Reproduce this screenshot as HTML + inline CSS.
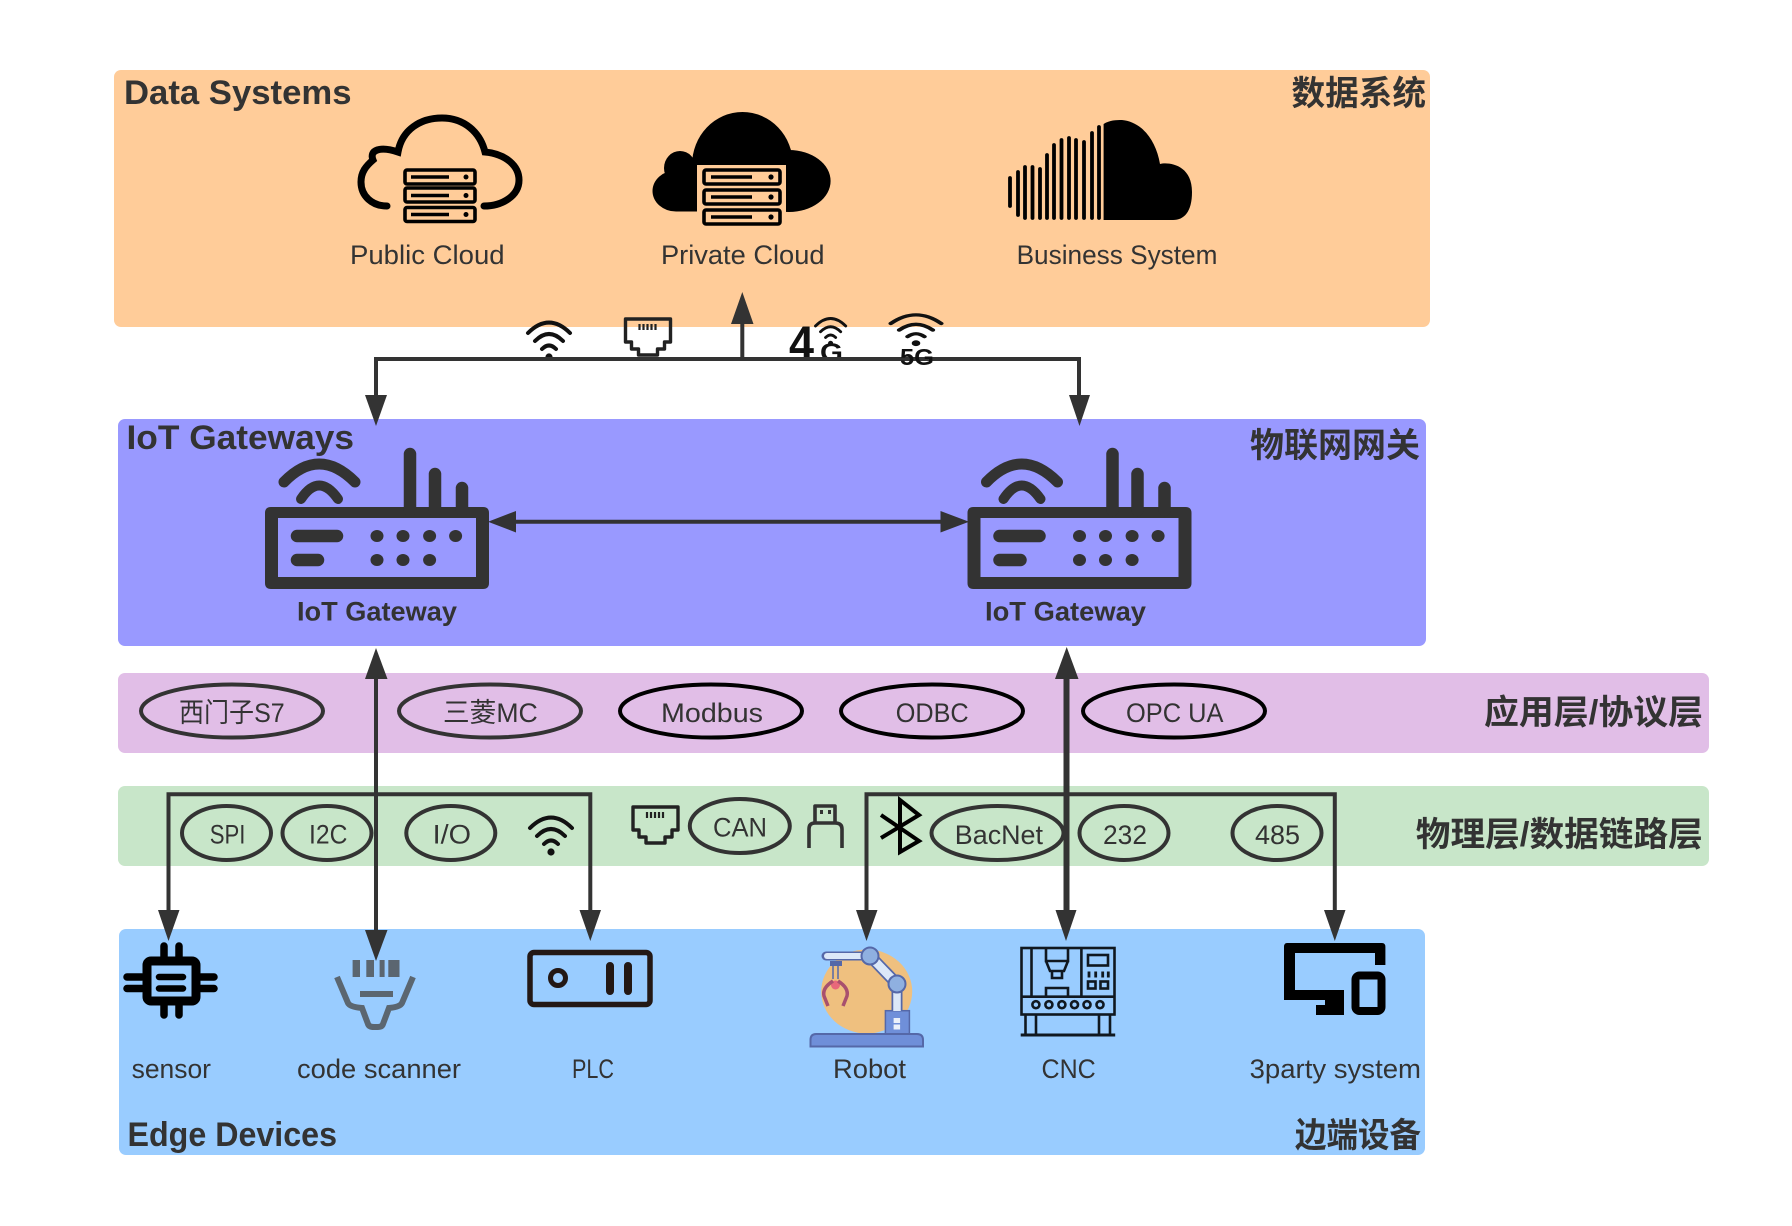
<!DOCTYPE html>
<html><head><meta charset="utf-8"><style>
html,body{margin:0;padding:0;background:#fff}
svg{display:block}
text{font-family:"Liberation Sans","Noto Sans CJK SC",sans-serif;fill:#333}
.b{font-weight:700;font-size:34px}
.r{font-size:27px}
.m{font-weight:700;font-size:27px}
.l{stroke:#333;stroke-width:4;fill:none}
.a{fill:#333}
.e{fill:none;stroke:#333;stroke-width:4}
.k{fill:none;stroke:#000;stroke-width:4}
</style></head><body>
<svg width="1792" height="1226" viewBox="0 0 1792 1226" xmlns="http://www.w3.org/2000/svg">
<defs>
<g id="wifi" fill="none" stroke="#111" stroke-width="4" stroke-linecap="round">
<path d="M-21 -25Q0 -46 21 -25"/><path d="M-14 -17Q0 -31 14 -17"/><path d="M-7 -9Q0 -16 7 -9"/><circle cx="0" cy="-1" r="1.6" fill="#111"/>
</g>
<g id="rj" fill="none" stroke="#222" stroke-width="3.4" stroke-linejoin="round">
<path d="M1 1H46V24H40V31H33V37H14V31H7V24H1Z"/>
<path d="M15 6V12M19 6V12M23 6V12M27 6V12M31 6V12" stroke-width="2.2"/>
</g>
<g id="router">
<path d="M271 507H483Q489 507 489 513V583Q489 589 483 589H271Q265 589 265 583V513Q265 507 271 507ZM278 518V577H476V518Z" fill="#333" fill-rule="evenodd"/>
<path d="M410 510V454M435 510V474M462 510V488" stroke="#333" stroke-width="12.5" stroke-linecap="round"/>
<path d="M284 482Q319 446 355 482" fill="none" stroke="#333" stroke-width="11" stroke-linecap="round"/>
<path d="M301 499Q319 472 338 499" fill="none" stroke="#333" stroke-width="10" stroke-linecap="round"/>
<path d="M297 536H337M297 560H318" stroke="#333" stroke-width="12.5" stroke-linecap="round"/>
<g fill="#333"><ellipse cx="377" cy="536" rx="6.5" ry="6"/><ellipse cx="403" cy="536" rx="6.5" ry="6"/><ellipse cx="429.6" cy="536" rx="6.5" ry="6"/><ellipse cx="455.6" cy="536" rx="6.5" ry="6"/><ellipse cx="377" cy="560" rx="6.5" ry="6"/><ellipse cx="403" cy="560" rx="6.5" ry="6"/><ellipse cx="429.6" cy="560" rx="6.5" ry="6"/></g>
</g>
</defs>

<rect x="114" y="70" width="1316" height="257" rx="7" fill="#FFCC99"/>
<rect x="118" y="419" width="1308" height="227" rx="7" fill="#9999FF"/>
<rect x="118" y="673" width="1591" height="80" rx="7" fill="#E1BEE7"/>
<rect x="118" y="786" width="1591" height="80" rx="7" fill="#C8E6C9"/>
<rect x="119" y="929" width="1306" height="226" rx="7" fill="#99CCFF"/>

<!-- public cloud -->
<path d="M387 206C372 206 361 196 361 182C361 172 366 166 373 160C369 150 380 146 398 152C402 130 420 118 442 118C464 118 480 132 485 152C506 154 519 166 519 180C519 196 502 206 484 206" fill="none" stroke="#000" stroke-width="7" stroke-linecap="round"/>
<g fill="none" stroke="#000" stroke-width="3.6">
<rect x="405" y="170" width="70" height="14" rx="2"/><rect x="405" y="188" width="70" height="14" rx="2"/><rect x="405" y="207.5" width="70" height="14" rx="2"/>
<path d="M411 177H449M411 195.5H449M411 214.5H449"/>
</g>
<g><circle cx="466" cy="177" r="2.5"/><circle cx="466" cy="195.5" r="2.5"/><circle cx="466" cy="214.5" r="2.5"/></g>

<!-- private cloud -->
<ellipse cx="742.5" cy="165" rx="50.5" ry="53"/><ellipse cx="789" cy="181" rx="41.6" ry="31"/><ellipse cx="676" cy="191" rx="23.5" ry="20.5"/><ellipse cx="680" cy="168" rx="16" ry="17"/><rect x="676" y="165" width="113" height="46.5"/>
<rect x="697" y="165" width="89" height="62" fill="#FFCC99"/>
<g fill="none" stroke="#000" stroke-width="3.6">
<rect x="704" y="170" width="76" height="14" rx="2"/><rect x="704" y="190" width="76" height="14" rx="2"/><rect x="704" y="210" width="76" height="14" rx="2"/>
</g>
<path d="M711 177H752M711 197H752M711 217H752" stroke="#000" stroke-width="3.6"/>
<circle cx="771" cy="177" r="2.6"/><circle cx="771" cy="197" r="2.6"/><circle cx="771" cy="217" r="2.6"/>

<!-- business -->
<path d="M1103.6 124C1110 120 1116 120 1122 120C1142 122 1156 140 1160 164C1168 162 1192 164 1192 192C1192 212 1184 220 1173 220H1103.6Z"/>
<g stroke="#000" stroke-width="3.8" stroke-linecap="round">
<path d="M1010 178V206M1018 172V215M1025 167V218M1032.5 167V218M1040 169V218M1047 155V218M1054 145V218M1061.5 140V218M1069 138V218M1076 140V218M1084 142V218M1092 133V218M1099 127V218"/>
</g>

<text class="b" x="124" y="104" textLength="227.5" lengthAdjust="spacingAndGlyphs">Data Systems</text>
<text class="b" x="1291.5" y="105" textLength="134.5" lengthAdjust="spacingAndGlyphs">数据系统</text>
<text class="r" x="350" y="264" textLength="154.6" lengthAdjust="spacingAndGlyphs">Public Cloud</text>
<text class="r" x="661" y="264" textLength="163.5" lengthAdjust="spacingAndGlyphs">Private Cloud</text>
<text class="r" x="1016.6" y="264" textLength="200.8" lengthAdjust="spacingAndGlyphs">Business System</text>

<!-- top icons -->
<use href="#wifi" x="549" y="358"/>
<use href="#rj" x="624.5" y="318"/>
<text x="789" y="360" style="font-weight:700;font-size:48px;fill:#111" textLength="25" lengthAdjust="spacingAndGlyphs">4</text>
<text x="820" y="361" style="font-weight:700;font-size:25px;fill:#111" textLength="23" lengthAdjust="spacingAndGlyphs">G</text>
<g transform="translate(830.6 344) scale(.72)"><use href="#wifi"/></g>
<g transform="translate(916 344) scale(1.2 .82)"><use href="#wifi"/></g>

<!-- top connectors -->
<path class="l" d="M376 395V359H1079V395"/>
<path class="l" d="M742.3 359V322"/>
<path class="a" d="M365 395H387L376 426ZM1069 395H1090L1079.5 426ZM731 324H753.5L742.3 292Z"/>
<text x="900" y="365" style="font-weight:700;font-size:23px;fill:#111" textLength="34" lengthAdjust="spacingAndGlyphs">5G</text>

<text class="b" x="126.5" y="449" textLength="227.5" lengthAdjust="spacingAndGlyphs">IoT Gateways</text>
<text class="b" x="1250" y="457" textLength="170" lengthAdjust="spacingAndGlyphs">物联网网关</text>

<use href="#router"/>
<use href="#router" x="702.5"/>
<text class="m" x="297" y="620.5" textLength="160" lengthAdjust="spacingAndGlyphs">IoT Gateway</text>
<text class="m" x="985" y="620.5" textLength="161" lengthAdjust="spacingAndGlyphs">IoT Gateway</text>

<path class="l" d="M514 521.7H943"/>
<path class="a" d="M488 521.7L516 511V532.5ZM969 521.7L940.5 511V532.5Z"/>

<!-- ellipses row 1 -->
<ellipse class="e" cx="232" cy="711" rx="91" ry="26.5"/>
<ellipse class="e" cx="490" cy="711" rx="91" ry="26.5"/>
<ellipse class="k" cx="711" cy="711" rx="91" ry="26.5"/>
<ellipse class="k" cx="932" cy="711" rx="91" ry="26.5"/>
<ellipse class="k" cx="1174" cy="711" rx="91" ry="26.5"/>
<text class="r" x="179" y="722" textLength="105.7" lengthAdjust="spacingAndGlyphs">西门子S7</text>
<text class="r" x="443" y="722" textLength="94.8" lengthAdjust="spacingAndGlyphs">三菱MC</text>
<text class="r" x="661" y="722" textLength="102" lengthAdjust="spacingAndGlyphs">Modbus</text>
<text class="r" x="895.7" y="722" textLength="73" lengthAdjust="spacingAndGlyphs">ODBC</text>
<text class="r" x="1126" y="722" textLength="97.5" lengthAdjust="spacingAndGlyphs">OPC UA</text>
<text class="b" x="1484" y="724" textLength="219" lengthAdjust="spacingAndGlyphs">应用层/协议层</text>

<!-- ellipses row 2 -->
<ellipse class="e" cx="226.5" cy="833" rx="44.5" ry="27"/>
<ellipse class="e" cx="327" cy="833" rx="44.5" ry="27"/>
<ellipse class="e" cx="450.8" cy="833" rx="44.5" ry="27"/>
<ellipse class="e" cx="739.8" cy="826" rx="50" ry="27"/>
<ellipse class="e" cx="997.5" cy="833" rx="66" ry="27"/>
<ellipse class="e" cx="1124" cy="833" rx="44.5" ry="27"/>
<ellipse class="e" cx="1277" cy="833" rx="44.5" ry="27"/>
<text class="r" x="209.7" y="843.5" textLength="35.7" lengthAdjust="spacingAndGlyphs">SPI</text>
<text class="r" x="309" y="843.5" textLength="38.4" lengthAdjust="spacingAndGlyphs">I2C</text>
<text class="r" x="432.6" y="843.5" textLength="38.4" lengthAdjust="spacingAndGlyphs">I/O</text>
<text class="r" x="713" y="836.5" textLength="54" lengthAdjust="spacingAndGlyphs">CAN</text>
<text class="r" x="954.8" y="844" textLength="88.2" lengthAdjust="spacingAndGlyphs">BacNet</text>
<text class="r" x="1103" y="844" textLength="44" lengthAdjust="spacingAndGlyphs">232</text>
<text class="r" x="1255" y="844" textLength="45" lengthAdjust="spacingAndGlyphs">485</text>
<text class="b" x="1415.8" y="846" textLength="287" lengthAdjust="spacingAndGlyphs">物理层/数据链路层</text>

<use href="#wifi" x="551" y="853"/>
<use href="#rj" x="632" y="806"/>
<path d="M815 823V806H835V823M809 848V829Q809 823 815 823H835Q842 823 842 829V848" fill="none" stroke="#333" stroke-width="3.6" stroke-linejoin="round"/>
<rect x="820" y="810" width="3" height="4" fill="#333"/><rect x="828" y="810" width="3" height="4" fill="#333"/>
<path d="M881 815L919 841L900 852V800L919 815L881 838" fill="none" stroke="#000" stroke-width="4"/>

<!-- lower connectors -->
<path class="l" d="M168.5 912V794.3H590.3V912"/>
<path class="l" d="M866.5 912V794.3H1334.8V912"/>
<path class="l" d="M376 679V932"/>
<path d="M1066.5 677V912" stroke="#333" stroke-width="6" fill="none"/>
<path class="a" d="M365 679H387.5L376 648ZM1055 679H1078.5L1066.7 647ZM158 910H179.5L168.5 941ZM365 930H387.5L376 961ZM579.5 910H601L590.3 941ZM856 910H877.5L866.5 941ZM1055.5 910H1076.5L1066 941ZM1324 910H1345.5L1334.8 941Z"/>

<!-- sensor -->
<g fill="none" stroke="#000">
<rect x="147" y="961" width="49" height="40" rx="4" stroke-width="9"/>
<path d="M164 946V957M179 946V957M164 1005V1015M179 1005V1015M127 977H142M127 988.5H142M201 977H214M201 988.5H214" stroke-width="7.5" stroke-linecap="round"/>
<path d="M159 977H183M159 988.5H183" stroke-width="6.5" stroke-linecap="round"/>
</g>
<!-- scanner -->
<g fill="#5b6670"><rect x="352.6" y="960" width="7.4" height="17"/><rect x="366.3" y="960" width="7.7" height="17"/><rect x="379.6" y="960" width="5" height="17"/><rect x="388.3" y="960" width="11.2" height="17"/></g>
<path d="M337 977L348 1003Q350 1007 362 1008L368 1024Q369 1027 374 1027H378Q382 1027 383 1024L389 1008Q400 1007 402 1003L413 977" fill="none" stroke="#5b6670" stroke-width="6"/>
<path d="M360 994H393" stroke="#5b6670" stroke-width="6"/>
<!-- PLC -->
<rect x="530" y="952.5" width="120" height="52" rx="4" fill="none" stroke="#231815" stroke-width="5.5"/>
<circle cx="558" cy="978" r="7.5" fill="none" stroke="#231815" stroke-width="5"/>
<path d="M610 966V991M628 966V991" stroke="#231815" stroke-width="8" stroke-linecap="round"/>
<!-- robot -->
<ellipse cx="866.7" cy="991.5" rx="45.5" ry="42" fill="#EFC07F"/>
<rect x="885.4" y="1010.7" width="24" height="24" fill="#6F8FD9" stroke="#5568A8" stroke-width="1.5"/>
<rect x="893.6" y="1018" width="6.5" height="5" fill="#EAF0FA"/><rect x="893.6" y="1024.5" width="6.5" height="5" fill="#EAF0FA"/>
<path d="M810.5 1046.5V1040Q810.5 1034 816 1034H917Q923 1034 923 1040V1046.5Z" fill="#6F8FD9" stroke="#5568A8" stroke-width="2"/>
<path d="M897 984V1011" stroke="#5568A8" stroke-width="11"/><path d="M897 984V1011" stroke="#DCE8F8" stroke-width="7.5"/>
<path d="M870 956L897 984" stroke="#5568A8" stroke-width="12"/><path d="M870 956L897 984" stroke="#DCE8F8" stroke-width="8.5"/>
<path d="M826 956H868" stroke="#5568A8" stroke-width="9" stroke-linecap="round"/><path d="M827 956H868" stroke="#DCE8F8" stroke-width="6" stroke-linecap="round"/>
<circle cx="870" cy="956" r="8.5" fill="#8FB0E0" stroke="#5568A8" stroke-width="2"/><circle cx="897" cy="984" r="8.5" fill="#8FB0E0" stroke="#5568A8" stroke-width="2"/>
<rect x="830" y="961" width="12" height="5" fill="#5568A8"/>
<path d="M833 966V979M838 966V979" stroke="#5568A8" stroke-width="1.5"/>
<circle cx="835.5" cy="985" r="4.5" fill="#E8687A"/>
<path d="M833 981Q822 988 824 996L828 1006M838 981Q849 988 847 996L843 1006" fill="none" stroke="#A8506E" stroke-width="3.5"/>
<!-- CNC -->
<g fill="none" stroke="#101820" stroke-width="2.6">
<rect x="1021.5" y="948" width="93" height="66.5"/>
<path d="M1021.5 996.7H1114.5M1031.5 948V996.7M1081.4 948V996.7"/>
<path d="M1046 948V961H1068V948M1046 961L1050 971H1064L1068 961M1052 971V978H1062V971"/>
<path d="M1046 996.7V988H1068V996.7"/>
<rect x="1088" y="955" width="20" height="10.5"/>
<path d="M1089 971.5V977.5M1095.7 971.5V977.5M1102.7 971.5V977.5M1108.3 971.5V977.5" stroke-width="2.8"/>
<rect x="1088" y="981.5" width="7.5" height="7"/><rect x="1100.5" y="981.5" width="7.5" height="7"/>
<circle cx="1035.9" cy="1004.7" r="3.5"/><circle cx="1048.9" cy="1004.7" r="3.5"/><circle cx="1061.9" cy="1004.7" r="3.5"/><circle cx="1074.5" cy="1004.7" r="3.5"/><circle cx="1087" cy="1004.7" r="3.5"/><circle cx="1100" cy="1004.7" r="3.5"/>
<path d="M1025.5 1015V1034M1036 1015V1034M1099 1015V1034M1110 1015V1034"/>
<path d="M1020.7 1035H1115.2" stroke-width="3"/>
</g>
<!-- 3party -->
<path d="M1287 943H1382Q1385.4 943 1385.4 947V965H1375V953H1295V990H1344V1015H1316V1005H1325V1000H1284V947Q1284 943 1287 943Z"/>
<rect x="1355.5" y="975.5" width="26" height="35.5" rx="4" fill="none" stroke="#000" stroke-width="8"/>

<text class="r" x="131.6" y="1078" textLength="79.4" lengthAdjust="spacingAndGlyphs">sensor</text>
<text class="r" x="297" y="1078" textLength="164" lengthAdjust="spacingAndGlyphs">code scanner</text>
<text class="r" x="572" y="1078" textLength="42" lengthAdjust="spacingAndGlyphs">PLC</text>
<text class="r" x="833" y="1078" textLength="73" lengthAdjust="spacingAndGlyphs">Robot</text>
<text class="r" x="1041.5" y="1078" textLength="54.2" lengthAdjust="spacingAndGlyphs">CNC</text>
<text class="r" x="1249.6" y="1078" textLength="171.4" lengthAdjust="spacingAndGlyphs">3party system</text>
<text class="b" x="127.5" y="1146" textLength="209.5" lengthAdjust="spacingAndGlyphs">Edge Devices</text>
<text class="b" x="1295" y="1147" textLength="126" lengthAdjust="spacingAndGlyphs">边端设备</text>
</svg>
</body></html>
